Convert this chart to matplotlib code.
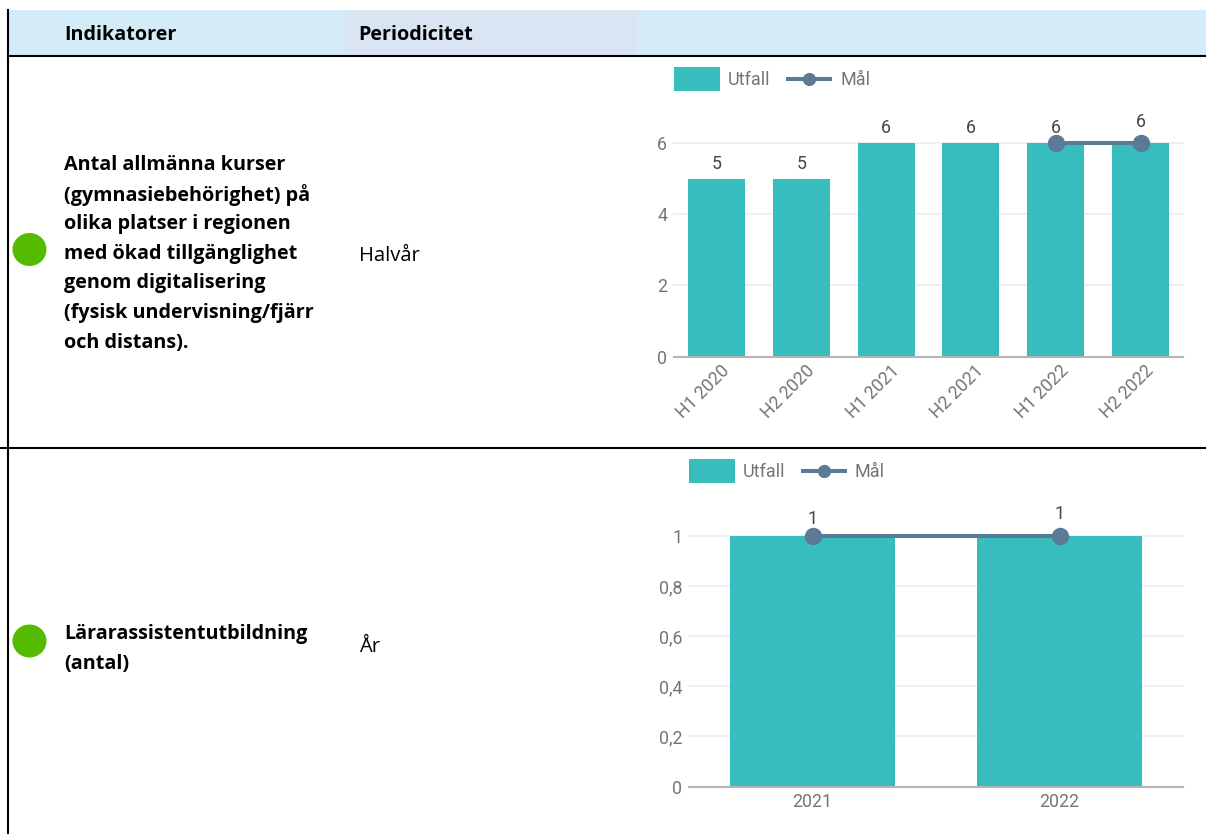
import matplotlib.pyplot as plt
from matplotlib.patches import Rectangle, Ellipse
from matplotlib.lines import Line2D
from matplotlib.transforms import ScaledTranslation

W, H = 1206, 834

# Daten
labels_1 = ["H1 2020", "H2 2020", "H1 2021", "H2 2021", "H1 2022", "H2 2022"]
utfall_1 = [5, 5, 6, 6, 6, 6]
mal_1 = [None, None, None, None, 6, 6]
yticks_1 = [0, 2, 4, 6]
yticklabels_1 = ["0", "2", "4", "6"]

labels_2 = ["2021", "2022"]
utfall_2 = [1, 1]
mal_2 = [1, 1]
yticks_2 = [0, 0.2, 0.4, 0.6, 0.8, 1]
yticklabels_2 = ["0", "0,2", "0,4", "0,6", "0,8", "1"]

header_1 = "Indikatorer"
header_2 = "Periodicitet"
indikator_1 = ["Antal allmänna kurser", "(gymnasiebehörighet) på", "olika platser i regionen",
               "med ökad tillgänglighet", "genom digitalisering",
               "(fysisk undervisning/fjärr", "och distans)."]
indikator_2 = ["Lärarassistentutbildning", "(antal)"]
period_1 = "Halvår"
period_2 = "År"

TEAL = "#37bdbd"
SLATE = "#5b7a96"
GREEN = "#55bb00"
GREY = "#757575"
DARK = "#444444"
plt.rcParams["font.family"] = "Roboto"

fig = plt.figure(figsize=(W / 100, H / 100), dpi=100)
bg = fig.add_axes([0, 0, 1, 1])
bg.set_xlim(0, W)
bg.set_ylim(H, 0)
bg.axis("off")

# Tabelle
bg.add_patch(Rectangle((8, 10), W - 8, 45, color="#d3ecf8", lw=0))
bg.add_patch(Rectangle((345, 10), 293, 45, color="#d9e5f3", lw=0))
bg.plot([7.5, 7.5], [10, H], color="black", lw=1.5)
bg.plot([8, W], [55.5, 55.5], color="black", lw=1.5)
bg.plot([0, W], [447.5, 447.5], color="black", lw=1.5)

bold = dict(family="Open Sans", fontweight="bold", fontsize=14.2, color="black", va="center")
bg.text(64.5, 35, header_1, **bold)
bg.text(358.5, 35, header_2, **bold)
for i, line in enumerate(indikator_1):
    bg.text(64.5, 165 + i * 29.6, line, **bold)
for i, line in enumerate(indikator_2):
    bg.text(64.5, 634 + i * 29.6, line, **bold)
bg.text(359, 256, period_1, family="Open Sans", fontsize=14.6, va="center")
bg.text(359, 647, period_2, family="Open Sans", fontsize=14.6, va="center")
bg.add_patch(Ellipse((29.5, 249.5), 34, 33, color=GREEN, lw=0))
bg.add_patch(Ellipse((29.5, 641), 34, 33, color=GREEN, lw=0))


def legend(x, y):
    bg.add_patch(Rectangle((x, y - 12), 46, 24, color=TEAL, lw=0))
    bg.text(x + 54, y + 1, "Utfall", color=GREY, fontsize=13, va="center")
    bg.add_line(Line2D([x + 112, x + 158], [y, y], color=SLATE, lw=2.9, solid_capstyle="butt"))
    bg.plot([x + 135], [y], "o", color=SLATE, ms=8.5)
    bg.text(x + 166, y + 1, "Mål", color=GREY, fontsize=13, va="center")


def chart(left, right, top, bottom, labels, utfall, mal, yticks, yticklabels, rot, off_bar, off_line):
    ax = fig.add_axes([left / W, 1 - bottom / H, (right - left) / W, (bottom - top) / H])
    x = list(range(len(labels)))
    ax.set_axisbelow(True)
    ax.bar(x, utfall, width=0.67, color=TEAL)
    mx = [i for i in x if mal[i] is not None]
    my = [mal[i] for i in mx]
    ax.plot(mx, my, "-o", color=SLATE, lw=2.9, ms=11.5, clip_on=False, zorder=5)
    for i in x:
        # sista punkten har etiketten lite hogre
        off = off_line if i == mx[-1] else off_bar
        ax.annotate(str(utfall[i]), (i, utfall[i]), xytext=(0, off), textcoords="offset pixels",
                    ha="center", va="center", color=DARK, fontsize=12.8, zorder=6)
    ax.set_xlim(-0.5, len(labels) - 0.5)
    ax.set_ylim(0, yticks[-1])
    ax.set_yticks(yticks, yticklabels)
    ax.set_xticks(x, labels)
    ax.tick_params(axis="both", length=0, labelcolor=GREY, labelsize=12.8, pad=5)
    if rot:
        shift = ScaledTranslation(4 / 100, 2 / 100, fig.dpi_scale_trans)
        for t in ax.get_xticklabels():
            t.set(rotation=45, ha="right", rotation_mode="anchor")
            t.set_transform(t.get_transform() + shift)
    ax.grid(axis="y", color="#ecf0f4", lw=1.5, clip_on=False)
    for s in ["top", "right", "left"]:
        ax.spines[s].set_visible(False)
    ax.spines["bottom"].set_color("#b5b5b5")
    ax.spines["bottom"].set_linewidth(1.5)
    return ax


legend(674, 79)
legend(689, 471)
chart(674, 1183, 143, 356.5, labels_1, utfall_1, mal_1, yticks_1, yticklabels_1, True, 15, 21)
chart(689, 1183, 536, 786.5, labels_2, utfall_2, mal_2, yticks_2, yticklabels_2, False, 17, 22)

fig.savefig("out.png", dpi=100)
